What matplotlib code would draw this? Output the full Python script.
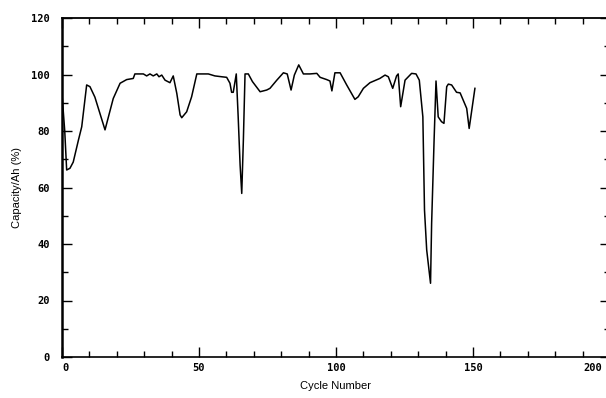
import matplotlib
matplotlib.use("Agg")
import matplotlib.pyplot as plt
import matplotlib.transforms as mtransforms
from matplotlib.ticker import MultipleLocator

# capacity trace
cycle = [0.0, 1.0, 1.7, 2.9, 4.1, 6.0, 7.2, 9.0, 10.2, 12.0, 15.7, 18.7, 21.2, 23.6,
         26.0, 26.6, 29.7, 30.9, 32.1, 33.3, 34.6, 35.4, 36.4, 37.6, 39.4, 40.6,
         41.9, 43.1, 43.7, 45.5, 47.3, 49.2, 53.4, 55.8, 58.3, 60.1, 61.3, 61.9,
         62.5, 63.6, 64.3, 65.0, 65.6, 66.2, 66.8, 68.0, 69.5, 72.3, 74.7, 75.9,
         78.4, 80.8, 82.2, 83.6, 84.8, 86.4, 88.1, 90.5, 93.0, 94.2, 96.6, 97.8,
         98.5, 99.6, 101.5, 103.9, 106.9, 108.1, 110.0, 112.4, 116.0, 117.9, 119.1,
         120.7, 122.1, 122.7, 123.6, 125.2, 127.6, 129.2, 130.4, 131.7, 132.3,
         133.1, 134.5, 134.9, 135.8, 136.5, 137.3, 138.5, 139.4, 140.4, 141.0,
         142.2, 144.0, 145.3, 147.7, 148.6, 150.7]
capacity = [93.0, 80.0, 66.2, 66.8, 69.0, 76.8, 81.5, 96.3, 95.7, 92.0, 80.4, 91.5, 96.9, 98.2,
            98.6, 100.2, 100.2, 99.5, 100.2, 99.5, 100.2, 99.2, 99.8, 98.0, 97.1, 99.5,
            93.3, 85.7, 84.7, 86.8, 92.1, 100.2, 100.2, 99.5, 99.2, 99.0, 96.9, 93.7,
            93.7, 100.2, 85.0, 68.0, 57.9, 77.0, 100.2, 100.2, 97.5, 93.9, 94.5, 95.1,
            98.0, 100.6, 100.2, 94.5, 99.8, 103.4, 100.2, 100.2, 100.4, 99.0, 98.2, 97.7,
            94.2, 100.6, 100.6, 96.3, 91.2, 92.1, 95.1, 97.1, 98.6, 99.8, 99.2,
            95.1, 99.5, 100.2, 88.6, 98.0, 100.4, 100.2, 98.0, 85.0, 52.0,
            37.9, 26.1, 47.3, 76.8, 97.7, 85.0, 83.3, 82.7, 95.7, 96.6,
            96.3, 93.7, 93.5, 88.0, 80.9, 95.1]

xticks = [0, 50, 100, 150, 200]
yticks = [0, 20, 40, 60, 80, 100, 120]

fig = plt.figure(figsize=(6.06, 3.98), dpi=100)
ax = fig.add_axes([62 / 606, 41 / 398, 548 / 606, 339 / 398])

ax.plot(cycle, capacity, color="black", linewidth=1.1)

ax.set_xlim(0, 200)
ax.set_ylim(0, 120)
ax.set_xticks(xticks)
ax.set_yticks(yticks)
ax.xaxis.set_minor_locator(MultipleLocator(10))
ax.yaxis.set_minor_locator(MultipleLocator(10))

tick_font = dict(family="DejaVu Sans Mono", fontsize=7.5, fontweight="bold")
ax.set_xticklabels([str(v) for v in xticks], **tick_font)
ax.set_yticklabels([str(v) for v in yticks], **tick_font)

ax.tick_params(which="both", direction="in", top=True, right=True, color="black")
ax.tick_params(which="major", length=7, width=1)
ax.tick_params(which="minor", length=4, width=1)
ax.tick_params(axis="y", which="major", pad=9)
ax.tick_params(axis="x", which="major", pad=4)

# edge labels sit inside, as in the reference
xlabs = ax.get_xticklabels()
xlabs[0].set_ha("left")
xlabs[-1].set_ha("right")
shift = mtransforms.ScaledTranslation(-6 / 72, 0, fig.dpi_scale_trans)
xlabs[-1].set_transform(xlabs[-1].get_transform() + shift)

ax.spines["left"].set_linewidth(1.8)
ax.spines["top"].set_linewidth(1.3)
ax.spines["bottom"].set_linewidth(1.2)
ax.spines["right"].set_linewidth(1.2)

ax.set_xlabel("Cycle Number", fontsize=8, family="Liberation Sans", labelpad=6)
ax.set_ylabel("Capacity/Ah (%)", fontsize=8, family="Liberation Sans", labelpad=6)

fig.savefig("out.png", dpi=100)
